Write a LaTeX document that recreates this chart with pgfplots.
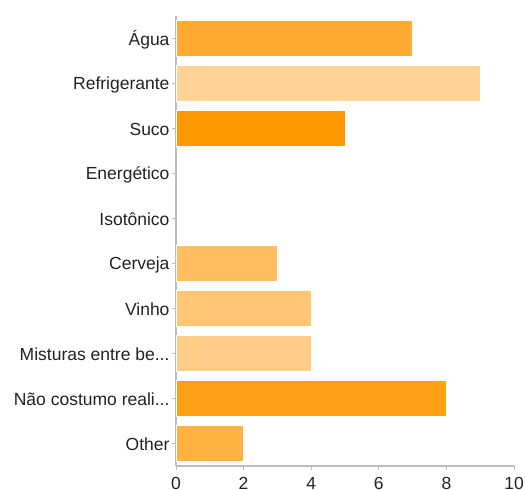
\documentclass[border=0pt]{standalone}
\usepackage{fontspec}
\setmainfont{Liberation Sans}
\usepackage{pgfplots}
\pgfplotsset{compat=1.18}

\definecolor{agua}{HTML}{FFAA33}
\definecolor{refri}{HTML}{FED496}
\definecolor{suco}{HTML}{FF9900}
\definecolor{energ}{HTML}{FFB240}
\definecolor{isot}{HTML}{FFB240}
\definecolor{cerveja}{HTML}{FFBF60}
\definecolor{vinho}{HTML}{FFC675}
\definecolor{mist}{HTML}{FFCD87}
\definecolor{nao}{HTML}{FFA115}
\definecolor{other}{HTML}{FFB240}
\definecolor{axisgray}{HTML}{BDBDBD}
\definecolor{labelgray}{HTML}{222222}

% three dots for truncated labels (kept out of the \foreach list parser)
\newcommand\trunc{.\kern0pt.\kern0pt.}

\begin{document}
\begin{tikzpicture}[x=1bp,y=1bp]
\useasboundingbox (0,0) rectangle (525,-490);
\begin{axis}[
  at={(176bp,-466bp)}, anchor=south west,
  scale only axis, width=338bp, height=450bp,
  xmin=0, xmax=10, xtick={0,2,4,6,8,10},
  ymin=-0.5, ymax=9.5, y dir=reverse,
  ytick={0,1,2,3,4,5,6,7,8,9},
  yticklabels={Água,Refrigerante,Suco,Energético,Isotônico,Cerveja,Vinho,Misturas entre be\trunc,Não costumo reali\trunc,Other},
  axis x line*=bottom, axis y line*=left,
  axis line style={axisgray, line width=1.2bp, -},
  tick style={axisgray, line width=1bp},
  tick align=outside, major tick length=4bp,
  /pgf/number format/assume math mode=true,
  tick label style={font=\fontsize{17.5bp}{20bp}\selectfont, text=labelgray},
  yticklabel style={xshift=1bp, yshift=-1bp},
  xticklabel style={yshift=-4bp},
  xbar, bar width=36bp, bar shift=0pt,
  every axis plot/.append style={draw=white, line width=0.6bp},
  clip=false,
]
\addplot[fill=agua]    coordinates {(7,0)};
\addplot[fill=refri]   coordinates {(9,1)};
\addplot[fill=suco]    coordinates {(5,2)};
\addplot[fill=energ, draw=none]   coordinates {(0,3)};
\addplot[fill=isot, draw=none]    coordinates {(0,4)};
\addplot[fill=cerveja] coordinates {(3,5)};
\addplot[fill=vinho]   coordinates {(4,6)};
\addplot[fill=mist]    coordinates {(4,7)};
\addplot[fill=nao]     coordinates {(8,8)};
\addplot[fill=other]   coordinates {(2,9)};
\end{axis}
\end{tikzpicture}
\end{document}
